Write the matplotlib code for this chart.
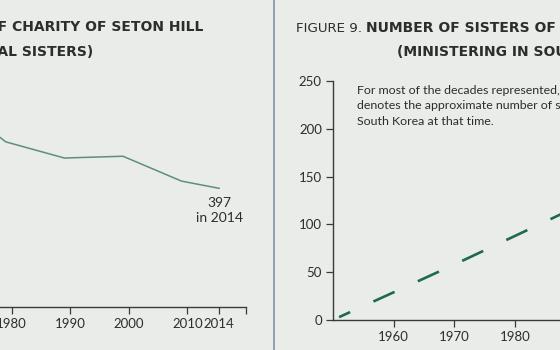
import numpy as np
import matplotlib.pyplot as plt
from matplotlib.lines import Line2D

# Figure 8 (left, only its right part is visible)
anos_esq = [1969, 1979, 1989, 1999, 2009, 2014]
irmas_esq = [705, 552, 498, 504, 421, 397]
ticks_esq = [1980, 1990, 2000, 2010, 2014, 2020]
rotulos_esq = ['1980', '1990', '2000', '2010', '2014', '']

# Figure 9 (right, only its left part is visible)
anos_dir = [1951, 1960, 1970, 1980, 1990]
irmas_dir = [3, 29, 58, 88, 118]
ticks_dir = [1960, 1970, 1980]
yticks_dir = [0, 50, 100, 150, 200, 250]

FUNDO = '#e9ece8'
TEXTO = '#2d2d2d'
EIXO = '#3a3a3a'
FONTE = ['Lato', 'DejaVu Sans']
FONTE_TIT = ['DejaVu Sans']

plt.rcParams['font.family'] = FONTE
plt.rcParams['text.color'] = TEXTO

W, H = 560, 350
fig = plt.figure(figsize=(W / 100, H / 100), dpi=100, facecolor=FUNDO)


def px(x0, y0, x1, y1):
    # caixa em pixels (y de cima) -> coordenadas da figura
    return [x0 / W, 1 - y1 / H, (x1 - x0) / W, (y1 - y0) / H]


def estilo(ax):
    ax.set_facecolor('none')
    for s in ['top', 'right', 'left']:
        ax.spines[s].set_visible(False)
    ax.spines['bottom'].set_color(EIXO)
    ax.spines['bottom'].set_linewidth(1.0)
    ax.tick_params(colors=EIXO, labelcolor=TEXTO, labelsize=9.5, width=0.9, length=5, pad=3)


# escala com 2014 um pouco deslocado, como no original
ref_anos = [1900, 2010, 2014, 2020, 2100]
ref_pos = [1900, 2010, 2015.4, 2020, 2100]
fwd = lambda x: np.interp(x, ref_anos, ref_pos)
inv = lambda x: np.interp(x, ref_pos, ref_anos)

ax1 = fig.add_axes(px(-222.8, 82.5, 246, 307.3))
estilo(ax1)
ax1.set_xscale('function', functions=(fwd, inv))
ax1.plot(anos_esq, irmas_esq, color='#5e8f7c', lw=1.1)
ax1.set_xlim(1940, 2020)
ax1.set_ylim(0, 750)
ax1.set_xticks(ticks_esq)
ax1.set_xticklabels(rotulos_esq)
ax1.xaxis.set_minor_locator(plt.NullLocator())
ax1.set_yticks([])
ax1.text(anos_esq[-1], irmas_esq[-1] - 30, f'{irmas_esq[-1]}\nin {anos_esq[-1]}',
         ha='center', va='top', fontsize=10, linespacing=1.3, color=TEXTO)

ax2 = fig.add_axes(px(333, 81, 333 + 70 * 6.07, 320))
estilo(ax2)
ax2.spines['left'].set_visible(True)
ax2.spines['left'].set_color(EIXO)
ax2.spines['left'].set_linewidth(1.0)
ax2.plot(anos_dir, irmas_dir, color='#1d6a4c', lw=1.9,
         linestyle=(4.2, (8.8, 9.7)), dash_capstyle='butt')
ax2.set_xlim(1950, 2020)
ax2.set_ylim(0, 250)
ax2.set_xticks(ticks_dir)
ax2.set_yticks(yticks_dir)
ax2.text(0.057, 0.985,
         'For most of the decades represented, the line\n'
         'denotes the approximate number of sisters in\n'
         'South Korea at that time.',
         transform=ax2.transAxes, ha='left', va='top', fontsize=8.9,
         linespacing=1.5, color=TEXTO)

# titulos
fig.text(203 / W, 1 - 27 / H, 'FIGURE 8. NUMBER OF SISTERS OF CHARITY OF SETON HILL',
         ha='right', va='center', fontsize=10, fontweight='bold', family=FONTE_TIT)
fig.text(93 / W, 1 - 52 / H, '(TOTAL SISTERS)',
         ha='right', va='center', fontsize=10, fontweight='bold', family=FONTE_TIT)
fig.text(296 / W, 1 - 28 / H, 'FIGURE 9.', ha='left', va='center', fontsize=9.6,
         family=FONTE_TIT)
fig.text(366 / W, 1 - 28 / H, 'NUMBER OF SISTERS OF CHARITY',
         ha='left', va='center', fontsize=10, fontweight='bold', family=FONTE_TIT)
fig.text(397 / W, 1 - 52 / H, '(MINISTERING IN SOUTH KOREA)',
         ha='left', va='center', fontsize=10, fontweight='bold', family=FONTE_TIT)

# separador entre os paineis
fig.add_artist(Line2D([273.5 / W, 273.5 / W], [0, 1], color='#7f94a6', lw=1.2))

fig.savefig('out.png', dpi=100, facecolor=FUNDO)
